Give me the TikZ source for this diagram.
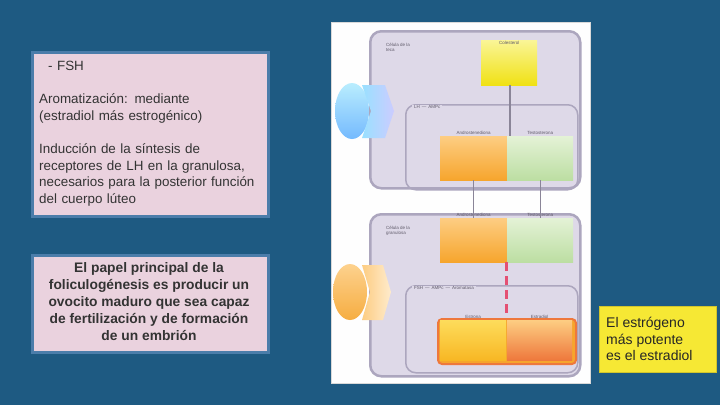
\documentclass[tikz,border=0pt]{standalone}
\usepackage{fontspec}
\setmainfont{Liberation Sans}
\definecolor{bg}{RGB}{30,90,130}
\definecolor{pinkfill}{RGB}{234,210,222}
\definecolor{pinkedge}{RGB}{75,125,170}
\definecolor{ylwbox}{RGB}{246,232,52}
\definecolor{lav}{RGB}{222,217,232}
\definecolor{lavedge}{RGB}{172,166,190}
\definecolor{txtgray}{RGB}{95,90,105}
\definecolor{orgtop}{RGB}{253,205,130}
\definecolor{orgbot}{RGB}{246,165,45}
\definecolor{grntop}{RGB}{228,242,214}
\definecolor{grnbot}{RGB}{188,222,162}
\definecolor{ylwtop}{RGB}{250,245,150}
\definecolor{ylwbot}{RGB}{240,225,20}
\definecolor{redarrow}{RGB}{228,80,115}
\definecolor{redrim}{RGB}{238,120,60}
\begin{document}
\begin{tikzpicture}[x=1pt,y=-1pt,
  pinkbox/.style={draw=pinkedge, line width=2.5pt, fill=pinkfill},
  container/.style={draw=lavedge, line width=2.5pt, fill=lav, rounded corners=11pt},
  inner/.style={draw=lavedge, line width=1.5pt, rounded corners=10pt},
  cell/.style={draw=none, inner sep=0pt, anchor=north west},
  orange/.style={cell, top color=orgtop, bottom color=orgbot},
  green/.style={cell, top color=grntop, bottom color=grnbot},
  yellowcell/.style={cell, top color=ylwtop, bottom color=ylwbot},
  tiny/.style={font=\fontsize{4.5}{5}\selectfont, text=txtgray, inner sep=0pt},
  link/.style={draw=lavedge!80!black, line width=1.2pt}
]
\useasboundingbox (0,0) rectangle (720,405);
\fill[bg] (0,0) rectangle (720,405);

% left pink boxes
\node[pinkbox, minimum width=236, minimum height=164, anchor=north west] (info) at (31,51) {};
\node[anchor=north west, inner sep=0pt, align=left, text width=228,
      font=\fontsize{13.4}{16.6}\selectfont, text=black!80] (infotext) at (39,61)
  {\hspace{9pt}- FSH\\[16.6pt]
   Aromatización: mediante\\
   (estradiol más estrogénico)\\[16.6pt]
   Inducción de la síntesis de\\
   receptores de LH en la granulosa,\\
   necesarios para la posterior función\\
   del cuerpo lúteo};

\node[pinkbox, minimum width=236, minimum height=97, anchor=north west] (role) at (31,254) {};
\node[align=center, inner sep=0pt, font=\bfseries\fontsize{13.8}{17}\selectfont, text=black!80] (roletext) at (149,302)
  {El papel principal de la\\
   foliculogénesis es producir un\\
   ovocito maduro que sea capaz\\
   de fertilización y de formación\\
   de un embrión};

% yellow note
\node[draw=ylwbox!85!black, line width=1pt, fill=ylwbox, minimum width=117, minimum height=66, anchor=north west] (note) at (599,306) {};
\node[anchor=west, align=left, inner sep=0pt, font=\fontsize{14}{16.5}\selectfont, text=black!85] (notetext) at (606,339)
  {El estrógeno\\más potente\\es el estradiol};

% central figure panel
\node[draw=white!85!black, line width=1pt, fill=white!97!lav, minimum width=259, minimum height=361, anchor=north west, inner sep=0pt] (panel) at (331,22) {};

% top container (theca)
\node[container, minimum width=210, minimum height=157, anchor=north west] (theca) at (369,30) {};
\node[tiny, align=left, anchor=north west] (thecalbl) at (386,43) {Célula de la\\teca};
\node[inner, minimum width=172, minimum height=85, anchor=north west] (thecain) at (405,104) {};
\node[tiny, anchor=west, fill=lav, inner xsep=2pt] (lhlbl) at (412,107) {LH \,---\, AMPc};
\node[yellowcell, minimum width=56, minimum height=45] (chol) at (481,40) {};
\node[tiny, anchor=north] (chollbl) at (chol.north) {\raisebox{-4pt}{Colesterol}};
\node[orange, minimum width=67, minimum height=44] (androT) at (440,136) {};
\node[tiny, anchor=north] at ([yshift=5pt]androT.north) {Androstenediona};
\node[green, minimum width=66, minimum height=44] (testoT) at (507,136) {};
\node[tiny, anchor=north] at ([yshift=5pt]testoT.north) {Testosterona};

% bottom container (granulosa)
\node[container, minimum width=210, minimum height=162, anchor=north west] (gran) at (369,213) {};
\node[tiny, align=left, anchor=north west] (granlbl) at (386,226) {Célula de la\\granulosa};
\node[inner, minimum width=172, minimum height=87, anchor=north west] (granin) at (405,285) {};
\node[tiny, anchor=west, fill=lav, inner xsep=2pt] (fshlbl) at (412,288) {FSH \,---\, AMPc \,---\, Aromatasa};
\node[orange, minimum width=67, minimum height=44] (androB) at (440,218) {};
\node[tiny, anchor=north] at ([yshift=5pt]androB.north) {Androstenediona};
\node[green, minimum width=66, minimum height=44] (testoB) at (507,218) {};
\node[tiny, anchor=north] at ([yshift=5pt]testoB.north) {Testosterona};

\node[draw=redrim, line width=2pt, rounded corners=4pt, fill=orgbot, minimum width=138, minimum height=45, anchor=north west, inner sep=0pt] (estro) at (437,318) {};
\node[cell, top color=orgtop!70!yellow, bottom color=orgbot!80!yellow, minimum width=66, minimum height=40] (estrona) at (440,320) {};
\node[cell, top color=orgtop, bottom color=redrim, minimum width=65, minimum height=40] (estradiol) at (507,320) {};
\node[tiny, anchor=north] at ([yshift=5pt]estrona.north) {Estrona};
\node[tiny, anchor=north] at ([yshift=5pt]estradiol.north) {Estradiol};

% connectors
\coordinate (cholout) at (510,85);
\draw[link] (chol.south -| cholout) -- (testoT.north -| cholout);
\draw[link] (androT.south) -- (androB.north);
\draw[link] (testoT.south) -- (testoB.north);
\coordinate (aromx) at (506,0);
\draw[draw=redarrow, line width=3pt, dash pattern=on 9pt off 5pt] (androB.south -| aromx) -- (estro.north -| aromx);

% left icons
\shade[top color=blue!25!cyan!30, bottom color=blue!50!cyan!60, opacity=0.9] (352,111) ellipse (17 and 28);
\shade[left color=blue!30!cyan!40, right color=blue!20!white] (362,85) -- (385,85) -- (394,111) -- (385,138) -- (362,138) -- (371,111) -- cycle;
\shade[top color=orgtop, bottom color=orgbot, opacity=0.9] (350,292) ellipse (17 and 28);
\shade[left color=orgtop, right color=orgtop!40!white] (362,265) -- (383,265) -- (391,292) -- (383,320) -- (362,320) -- (370,292) -- cycle;
\end{tikzpicture}
\end{document}
